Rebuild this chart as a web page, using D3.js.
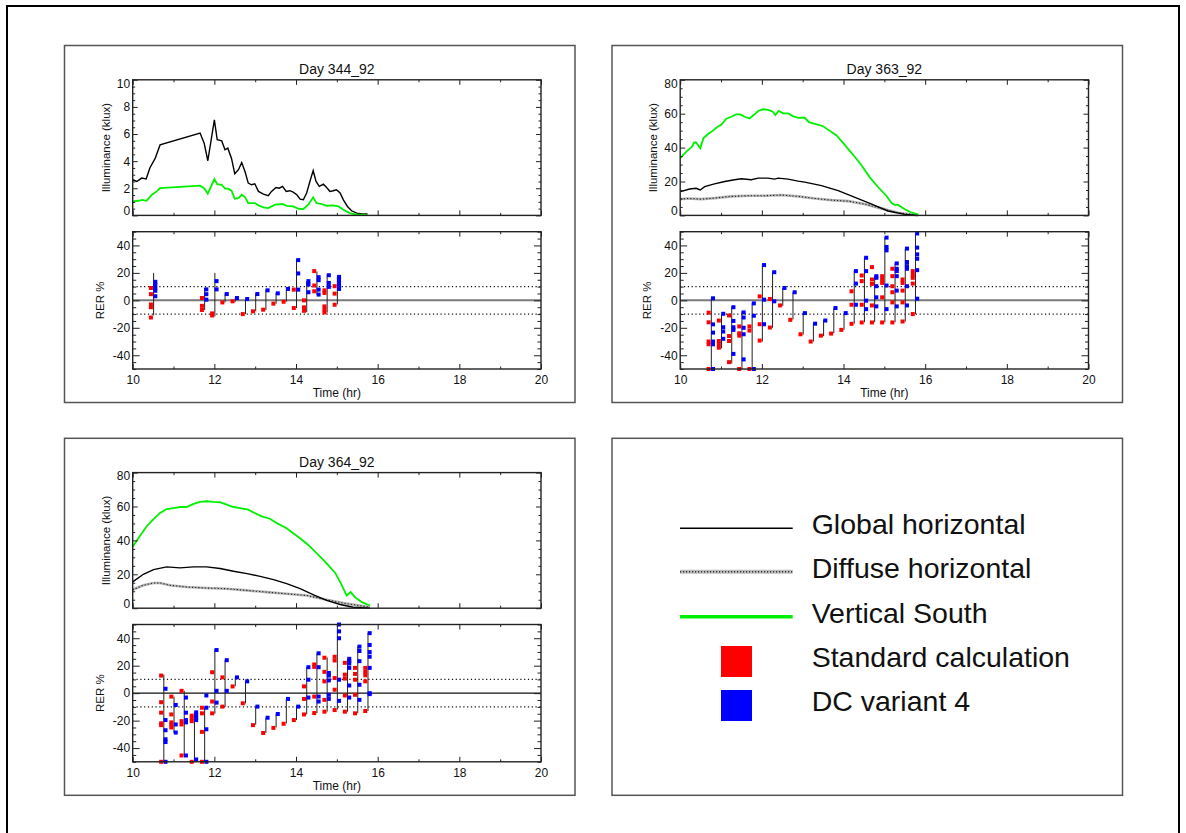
<!DOCTYPE html>
<html><head><meta charset="utf-8">
<script src="https://cdn.jsdelivr.net/npm/d3@7"></script>
<style>
body{margin:0;background:#fff}
svg{display:block}
text{font-family:"Liberation Sans",Arial,Helvetica,sans-serif;fill:#111}
</style>
</head><body>
<svg id="c" width="1186" height="833"></svg>
<script>
// ---------- tick labels ----------
const xTickVals = [10, 12, 14, 16, 18, 20];
const xTickLabels = ["10", "12", "14", "16", "18", "20"];
const illTicks344 = [0, 2, 4, 6, 8, 10];
const illTicks36x = [0, 20, 40, 60, 80];
const rerTicks = [-40, -20, 0, 20, 40];
const titles = ["Day 344_92", "Day 363_92", "Day 364_92"];
const legendLabels = ["Global horizontal", "Diffuse horizontal", "Vertical South", "Standard calculation", "DC variant 4"];

// ---------- Day 344 illuminance (time hr, klux) ----------
const global344 = [[10.0,2.63],[10.1,2.5],[10.22,2.75],[10.33,2.68],[10.42,3.5],[10.55,4.2],[10.67,5.2],[11.65,6.07],[11.75,5.33],[11.84,4.03],[12.0,7.05],[12.07,5.58],[12.18,5.5],[12.26,4.84],[12.33,4.96],[12.42,4.2],[12.5,3.07],[12.59,3.37],[12.67,3.9],[12.75,3.24],[12.83,2.38],[12.91,2.26],[12.99,2.33],[13.08,1.77],[13.2,1.57],[13.32,1.45],[13.4,1.77],[13.51,2.06],[13.59,2.01],[13.67,2.14],[13.76,1.77],[13.85,1.82],[13.93,1.72],[14.02,1.52],[14.1,1.2],[14.18,1.15],[14.26,1.65],[14.34,2.5],[14.42,3.3],[14.49,2.5],[14.57,2.14],[14.67,2.3],[14.75,2.06],[14.83,1.77],[14.91,1.82],[14.99,1.89],[15.08,1.65],[15.16,1.15],[15.26,0.66],[15.36,0.34],[15.49,0.17],[15.61,0.1],[15.75,0.1]];
const south344 = [[10.0,1.03],[10.14,1.08],[10.24,1.15],[10.34,1.08],[10.47,1.52],[10.59,1.77],[10.67,2.01],[11.65,2.19],[11.75,2.01],[11.84,1.6],[12.0,2.68],[12.07,2.31],[12.18,2.26],[12.26,1.97],[12.34,1.97],[12.42,1.82],[12.5,1.23],[12.59,1.28],[12.67,1.52],[12.75,1.35],[12.83,0.91],[12.99,0.91],[13.08,0.74],[13.2,0.59],[13.32,0.54],[13.49,0.79],[13.67,0.84],[13.77,0.71],[13.93,0.66],[14.06,0.49],[14.18,0.47],[14.3,0.79],[14.42,1.33],[14.5,0.91],[14.63,0.84],[14.75,0.71],[14.91,0.74],[15.04,0.66],[15.16,0.42],[15.32,0.17],[15.49,0.05],[15.73,0.05]];

// ---------- Day 363 illuminance ----------
const global363 = [[10.01,14],[10.23,15.6],[10.39,16],[10.49,15],[10.6,17],[10.84,18.6],[11.09,20],[11.33,21],[11.5,21.6],[11.74,21],[11.91,22],[12.15,22],[12.31,21.4],[12.4,22],[12.64,21.4],[12.89,20.2],[13.05,19.6],[13.46,17.6],[13.87,14.6],[14.28,10.6],[14.69,6.6],[15.09,2.6],[15.5,0.6],[15.83,0]];
const diffuse363 = [[10.01,9.6],[10.19,10],[10.52,9.6],[10.84,10.2],[11.25,11.2],[11.66,11.6],[12.07,11.6],[12.48,12],[12.89,11.2],[13.3,10],[13.71,9],[14.12,8.4],[14.53,6.6],[14.94,4],[15.34,1.6],[15.83,0]];
const south363 = [[10.01,34],[10.15,37.6],[10.29,40.6],[10.34,43],[10.39,43],[10.49,39.6],[10.57,45.6],[10.68,48],[10.78,49.6],[10.9,52],[11.01,53.6],[11.13,57],[11.25,58.2],[11.37,59.6],[11.47,59.6],[11.58,58.2],[11.7,57.2],[11.8,59.2],[11.91,61.6],[12.03,62.6],[12.15,62.2],[12.27,61.2],[12.33,59.2],[12.41,61.6],[12.52,60.2],[12.64,60.2],[12.76,58.6],[12.89,57.6],[13.05,57.6],[13.15,55],[13.3,54],[13.5,52.6],[13.62,50.6],[13.83,47.2],[14.03,41.6],[14.24,35.6],[14.44,29.6],[14.64,22.6],[14.85,16.6],[15.05,11.6],[15.18,7.2],[15.26,6.2],[15.34,6.2],[15.46,4.2],[15.63,2],[15.83,0.6]];

// ---------- Day 364 illuminance ----------
const global364 = [[10,15.5],[10.26,20],[10.51,22.8],[10.83,24.4],[11.16,23.8],[11.49,24.4],[11.81,24.4],[12.14,23.4],[12.47,21.8],[12.8,20.4],[13.12,18.8],[13.45,16.9],[13.77,14.5],[14.1,11.5],[14.43,7.9],[14.75,4.6],[15.08,2.2],[15.4,0.6],[15.81,0]];
const diffuse364 = [[10,10.9],[10.26,13.5],[10.51,14.9],[10.67,14.9],[10.91,13.5],[11.32,12.5],[11.81,11.9],[12.3,11.5],[12.79,10.5],[13.28,9.5],[13.77,8.5],[14.26,7.5],[14.75,5],[15.16,3],[15.81,0.6]];
const south364 = [[10,36.3],[10.18,42.7],[10.34,48.2],[10.51,52.6],[10.67,56.2],[10.83,58.5],[11.0,59.1],[11.16,59.7],[11.32,59.7],[11.49,61.5],[11.65,62.7],[11.81,63.1],[11.98,62.7],[12.14,62.5],[12.3,61.1],[12.47,59.7],[12.63,59.1],[12.83,58.1],[12.96,56.5],[13.16,54.2],[13.36,52.8],[13.53,50.2],[13.77,47.2],[13.93,44.2],[14.1,41.3],[14.3,37.3],[14.51,32.3],[14.75,26.4],[14.96,20.8],[15.08,15.5],[15.24,7.5],[15.34,9.5],[15.44,6.5],[15.61,3.6],[15.81,1.6]];

// ---------- RER % (Day 344) ----------
const rerT344 = [10.5,11.75,12,12.25,12.5,12.75,13,13.25,13.5,13.75,14,14.25,14.5,14.75,15];
const std344 = [[9,4.5,-3,-5,-12.5],[1.7,-4,-7],[-9.5,-11],[-1.5],[-0.7],[-10],[-8],[-6.8],[-2.4],[-1],[7.8,-5.6],[0,-5.1,-7.6],[21.3,10.8,6.6],[7.3,5.4,-4.4,-6.8,-8.8],[10.3,4.9,-3.2]];
const dc344 = [[13.5,11.5,9,7,3],[8,4.5,0.5],[14,8],[4.6],[1.7],[1],[4.6],[7.3],[5.1],[8.3],[29.3,19.6,7.8],[14,11.5,5.9],[16.9,14.7,7.8,4.2],[18.3,12.7,9.8],[17.1,15.2,12.7,10.3,8.3]];
const span344 = [[-11,20],[-7,9],[-11.7,20],[-1.5,5],[-1,2],[-10,1],[-8,5],[-7,8],[-2.5,5.5],[-1,9],[-5.6,30],[-8.5,14],[4,21],[-9,19],[-3,17]];

// ---------- RER % (Day 363) ----------
const rerT363 = [10.75,11,11.25,11.5,11.75,12,12.25,12.5,12.75,13,13.25,13.5,13.75,14,14.25,14.5,14.75,15,15.25,15.5,15.75];
const std363 = [[-9,-16,-30,-32,-50],[-14.7,-29.6,-32,-34.5],[-11,-26,-29.6,-45],[-19,-24,-25.7,-50],[-19,-22,-50],[2.9,-17.4,-29.3],[1,-19.8],[-3.7],[-14.2],[-24.7],[-30],[-25.7],[-24.2],[-21.5],[6.6,-3.2,-17.1],[18.1,14,-3.2,-16.1],[24.2,15.2,12,-3.7,-16.1],[17.6,15,12.7,2.2,-16.1],[23,17.6,10.3,5.9,-1.5,-16.1],[15.2,12.7,7.1,-1.5,-15.4],[21.3,18.5,16.4,12.2,-10]];
const dc363 = [[1.5,-17.5,-23.5,-30,-32,-50],[-9.8,-19.6,-22.7,-28],[-5,-15,-19.6,-21.5,-39],[-8.8,-12.5,-20,-24.7,-43],[-2.2,-11.2,-50],[25.7,0.5,-17.4],[20.5,-0.7],[9],[5.9],[-9.3],[-17],[-14.7],[-5.6],[-9.3],[21.3,12.2,-3.2],[31,21.3,-0.2,-6.4],[17.6,16.4,10.3,2.2,-4.4],[45.7,38.9,36.4,10.8,-6.4],[26.9,23,21.3,17.6,7.1,-4.4],[37.7,27.9,24.9,23,10.3,-3.7],[48.7,38.4,33.5,30.3,22,1.2]];
const span363 = [[-50,1.5],[-35,-10],[-46,-4.5],[-50,-8],[-50,-2],[-30,26],[-20,21],[-4,9],[-14,6],[-25,-9],[-30,-17],[-26,-14.5],[-24,-5.5],[-21.5,-9.5],[-17,21.5],[-16,31],[-16,18],[-16,46],[-16,27],[-15.5,37.5],[-10,48.7]];

// ---------- RER % (Day 364) ----------
const rerT364 = [10.75,11,11.25,11.5,11.75,12,12.25,12.5,12.75,13,13.25,13.5,13.75,14,14.25,14.5,14.75,15,15.25,15.5,15.75];
const std364 = [[12.8,-6.6,-14.2,-22,-23.3,-50],[-2.5,-15.5,-21.3,-23,-25],[1.7,-20.4,-22.8,-45.4],[-16.4,-18.4,-20.4,-50],[-10.6,-14.7,-28.2,-50],[15.2,-6.1,-14.7],[11.5,-9.8],[4.9],[-7.4],[-23.3],[-29],[-25.3],[-22.3],[-19.6],[4.9,-4.2,-15.5],[20.9,19.1,-2.5,-14.5],[25.8,15.5,8.6,-4.9,-13.5],[26.5,23.8,11,2.5,-12.3],[22.1,13.5,10.6,-1.7,-13.5],[18.4,14,9.8,-1.2,-14.7],[18.4,15.5,13,8.6,-13]];
const dc364 = [[3.2,-19.6,-27,-33.6,-35.6,-50],[-8.6,-22.8,-28.7],[-3.2,-14.2,-19.6,-21.3,-45.4],[-14,-16,-18,-19.6,-48.3],[-1.7,-10.6,-26.3,-50],[31.4,1.7,-6.9],[24,1.7],[11.5],[8.6],[-9.8],[-17.9],[-15.2],[-4.2],[-9.8],[18.9,9.8,-3.2],[29,18.9,-2.5,-6.1],[14.7,12.8,9.3,-1.2,-4.2],[50,45,40,9.8,-5.6],[25,23.3,21.6,18.4,5.6,-3.2],[33.9,30.7,23.3,6.1,-4.9],[43.7,35.1,29.9,26.5,18.4,0,-0.7]];
const span364 = [[-50,13.5],[-29,-2.5],[-45.4,1.7],[-50,-14],[-50,-10.5],[-15,32],[-10,24],[5,11.5],[-7.5,8.5],[-23,-10],[-29,-18],[-25,-15],[-22,-4],[-19.6,-10],[-15.5,19],[-14.5,29],[-13.5,26],[-12,50],[-13.5,25],[-14.7,34],[-13,44]];

// ---------- drawing ----------
const GREEN = "#00f000", RED = "#ff0000", BLUE = "#0000ff";
const svg = d3.select("#c");
svg.append("rect").attr("x", 7).attr("y", 6).attr("width", 1172).attr("height", 845)
  .attr("fill", "none").attr("stroke", "#000").attr("stroke-width", 2);

function styleAxis(sel) {
  sel.select(".domain").remove();
  sel.selectAll(".tick line").attr("stroke", "#222").attr("stroke-width", 1);
  sel.selectAll("text").attr("font-size", 12).attr("fill", "#222")
    .attr("font-family", '"Liberation Sans", Arial, sans-serif');
}

function frame(g, x, y, yMajor, yMinor, yLen, yLabels, showX) {
  const [yb, yt] = y.range();
  const [xl, xr] = x.range();
  const xMinor = d3.range(11, 20, 2);
  // bottom
  g.append("g").attr("transform", `translate(0,${yb})`)
    .call(d3.axisBottom(x).tickValues(xTickVals).tickSizeInner(-5).tickSizeOuter(0).tickPadding(6.8)
      .tickFormat((d, i) => showX ? xTickLabels[i] : "")).call(styleAxis);
  g.append("g").attr("transform", `translate(0,${yb})`)
    .call(d3.axisBottom(x).tickValues(xMinor).tickSizeInner(-2.5).tickSizeOuter(0).tickFormat("")).call(styleAxis);
  // top
  g.append("g").attr("transform", `translate(0,${yt})`)
    .call(d3.axisTop(x).tickValues(xTickVals).tickSizeInner(-5).tickSizeOuter(0).tickFormat("")).call(styleAxis);
  g.append("g").attr("transform", `translate(0,${yt})`)
    .call(d3.axisTop(x).tickValues(xMinor).tickSizeInner(-2.5).tickSizeOuter(0).tickFormat("")).call(styleAxis);
  // left
  const la = g.append("g").attr("transform", `translate(${xl},0)`)
    .call(d3.axisLeft(y).tickValues(yMajor).tickSizeInner(-yLen).tickSizeOuter(0).tickPadding(2.5)
      .tickFormat((d, i) => yLabels[i])).call(styleAxis);
  g.append("g").attr("transform", `translate(${xl},0)`)
    .call(d3.axisLeft(y).tickValues(yMinor).tickSizeInner(-yLen / 2).tickSizeOuter(0).tickFormat("")).call(styleAxis);
  // right
  g.append("g").attr("transform", `translate(${xr},0)`)
    .call(d3.axisRight(y).tickValues(yMajor).tickSizeInner(-yLen).tickSizeOuter(0).tickFormat("")).call(styleAxis);
  g.append("g").attr("transform", `translate(${xr},0)`)
    .call(d3.axisRight(y).tickValues(yMinor).tickSizeInner(-yLen / 2).tickSizeOuter(0).tickFormat("")).call(styleAxis);
  g.append("rect").attr("x", xl).attr("y", yt).attr("width", xr - xl).attr("height", yb - yt)
    .attr("fill", "none").attr("stroke", "#222").attr("stroke-width", 1.4);
  return la;
}

function drawPanel(bx, by, title, ymax, illTicks, illMinorStep, series, rerT, std, dc, span, zeroGray) {
  const g = svg.append("g");
  g.append("rect").attr("x", bx).attr("y", by).attr("width", 510.5).attr("height", 357)
    .attr("fill", "none").attr("stroke", "#555").attr("stroke-width", 1.5);
  const L = bx + 68.2, R = bx + 476.5;
  const tTop = by + 34.3, tBot = by + 169.9;
  const rTop = by + 186.2, rBot = by + 323.5;
  const x = d3.scaleLinear().domain([10, 20]).range([L, R]);
  const y1 = d3.scaleLinear().domain([0, ymax]).range([tBot, tTop]);
  const y2 = d3.scaleLinear().domain([-50, 50]).range([rBot, rTop]);

  // title
  g.append("text").attr("x", (L + R) / 2).attr("y", tTop - 6).attr("text-anchor", "middle")
    .attr("font-size", 14).text(title);

  // top plot curves
  const line = d3.line().x(d => x(d[0])).y(d => y1(d[1]));
  if (series.diffuse) {
    g.append("path").datum(series.diffuse).attr("d", line).attr("fill", "none")
      .attr("stroke", "#b4b4b4").attr("stroke-width", 2.6);
    g.append("path").datum(series.diffuse).attr("d", line).attr("fill", "none")
      .attr("stroke", "#222").attr("stroke-width", 1.1).attr("stroke-dasharray", "1.2,2");
  }
  g.append("path").datum(series.global).attr("d", line).attr("fill", "none")
    .attr("stroke", "#000").attr("stroke-width", 1.4);
  g.append("path").datum(series.south).attr("d", line).attr("fill", "none")
    .attr("stroke", GREEN).attr("stroke-width", 1.8);

  const illMinor = d3.range(0, ymax + 0.001, illMinorStep).filter(v => !illTicks.includes(v));
  const la = frame(g, x, y1, illTicks, illMinor, 5, illTicks.map(String), false);
  // IDL places the extreme labels slightly inside
  la.selectAll(".tick text").attr("dy", (d, i) => i === 0 ? "-0.05em" : (i === illTicks.length - 1 ? "0.6em" : "0.32em"));
  g.append("text").attr("transform", `translate(${L - 27},${(tTop + tBot) / 2}) rotate(-90)`)
    .attr("text-anchor", "middle").attr("dy", "0.35em").attr("font-size", 11.5).text("Illuminance (klux)");

  // RER plot
  g.append("line").attr("x1", L).attr("x2", R).attr("y1", y2(0)).attr("y2", y2(0))
    .attr("stroke", zeroGray ? "#7a7a7a" : "#111").attr("stroke-width", zeroGray ? 2 : 1.3);
  [10, -10].forEach(v => g.append("line").attr("x1", L).attr("x2", R).attr("y1", y2(v)).attr("y2", y2(v))
    .attr("stroke", "#111").attr("stroke-width", 1.1).attr("stroke-dasharray", "1.2,2.6"));

  rerT.forEach((t, i) => {
    const cx = x(t);
    g.append("line").attr("x1", cx + 0.5).attr("x2", cx + 0.5)
      .attr("y1", y2(span[i][0])).attr("y2", y2(span[i][1]))
      .attr("stroke", "#222").attr("stroke-width", 1);
  });
  rerT.forEach((t, i) => {
    const cx = x(t);
    g.selectAll(null).data(std[i]).enter().append("rect")
      .attr("x", cx - 2.2 - 2).attr("y", d => y2(d) - 2).attr("width", 4).attr("height", 4).attr("fill", RED);
    g.selectAll(null).data(dc[i]).enter().append("rect")
      .attr("x", cx + 2.2 - 2).attr("y", d => y2(d) - 2).attr("width", 4).attr("height", 4).attr("fill", BLUE);
  });

  const rerMinor = d3.range(-50, 50.001, 5).filter(v => !rerTicks.includes(v));
  frame(g, x, y2, rerTicks, rerMinor, 7, rerTicks.map(String), true);
  g.append("text").attr("transform", `translate(${L - 33},${(rTop + rBot) / 2}) rotate(-90)`)
    .attr("text-anchor", "middle").attr("dy", "0.35em").attr("font-size", 11.5).text("RER %");
  g.append("text").attr("x", (L + R) / 2).attr("y", rBot + 28).attr("text-anchor", "middle")
    .attr("font-size", 12).text("Time (hr)");
}

drawPanel(64.5, 45.5, titles[0], 10, illTicks344, 0.5,
  {global: global344, south: south344}, rerT344, std344, dc344, span344, true);
drawPanel(612, 45.5, titles[1], 80, illTicks36x, 5,
  {global: global363, diffuse: diffuse363, south: south363}, rerT363, std363, dc363, span363, true);
drawPanel(64.5, 438.3, titles[2], 80, illTicks36x, 5,
  {global: global364, diffuse: diffuse364, south: south364}, rerT364, std364, dc364, span364, false);

// ---------- legend ----------
const lg = svg.append("g");
lg.append("rect").attr("x", 612).attr("y", 438.3).attr("width", 510.5).attr("height", 357)
  .attr("fill", "none").attr("stroke", "#555").attr("stroke-width", 1.5);
const legBase = [534, 578.3, 622.6, 666.9, 711.2];
const lx1 = 680, lx2 = 792.7, tx = 811.7;
lg.append("line").attr("x1", lx1).attr("x2", lx2).attr("y1", 528.3).attr("y2", 528.3)
  .attr("stroke", "#000").attr("stroke-width", 1.5);
lg.append("line").attr("x1", lx1).attr("x2", lx2).attr("y1", 571.7).attr("y2", 571.7)
  .attr("stroke", "#bdbdbd").attr("stroke-width", 4);
lg.append("line").attr("x1", lx1).attr("x2", lx2).attr("y1", 571.7).attr("y2", 571.7)
  .attr("stroke", "#333").attr("stroke-width", 1.6).attr("stroke-dasharray", "1.2,1.8");
lg.append("line").attr("x1", lx1).attr("x2", lx2).attr("y1", 616.7).attr("y2", 616.7)
  .attr("stroke", GREEN).attr("stroke-width", 3.5);
lg.append("rect").attr("x", 721).attr("y", 646).attr("width", 31).attr("height", 31).attr("fill", RED);
lg.append("rect").attr("x", 721).attr("y", 690).attr("width", 31).attr("height", 31).attr("fill", BLUE);
legendLabels.forEach((s, i) => lg.append("text").attr("x", tx).attr("y", legBase[i])
  .attr("font-size", 28.5).attr("fill", "#000").text(s));
</script>
</body></html>
